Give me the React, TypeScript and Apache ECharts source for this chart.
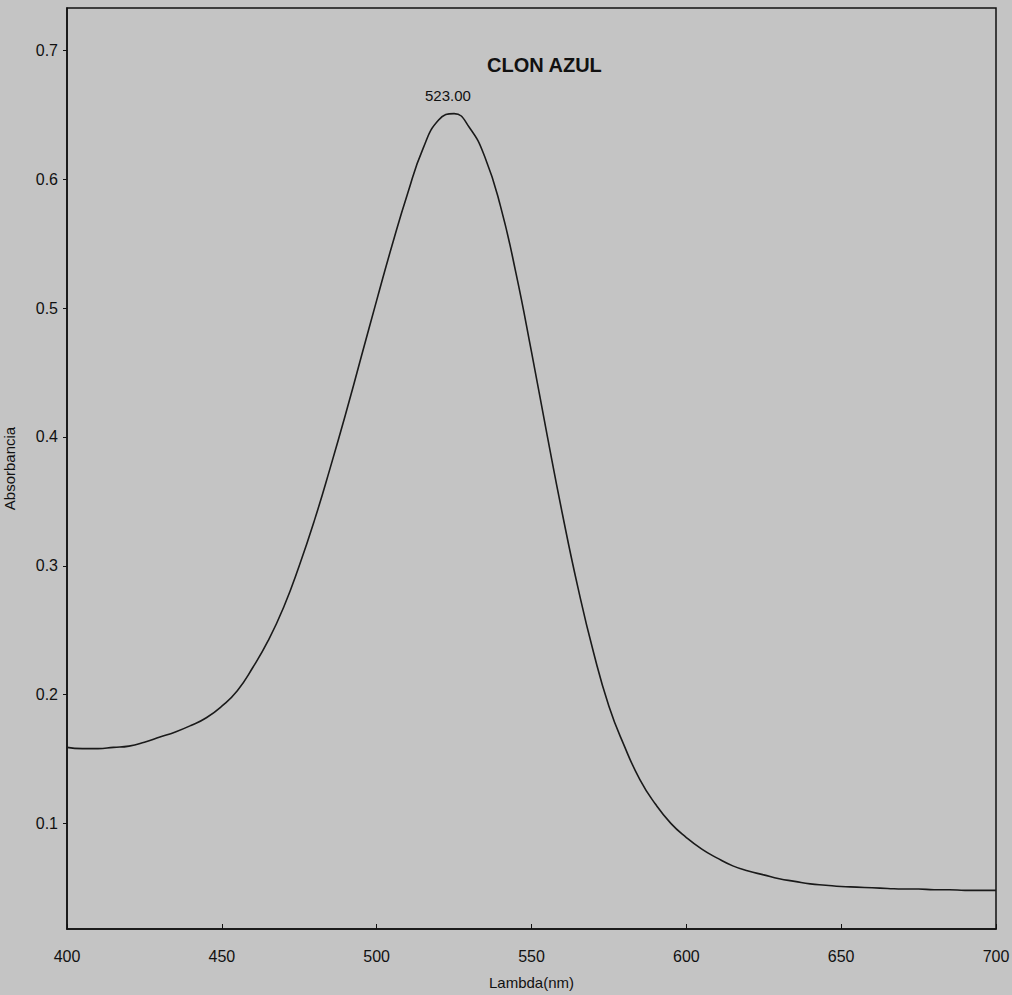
import React, { useEffect, useRef } from "react";
import * as echarts from "echarts";

const wavelengths = [400, 405, 410, 415, 420, 425, 430, 435, 440, 445, 450, 455, 460, 465, 470, 475, 480, 485, 490, 495, 500, 505, 510, 515, 520, 525, 530, 535, 540, 545, 550, 555, 560, 565, 570, 575, 580, 585, 590, 595, 600, 605, 610, 615, 620, 625, 630, 635, 640, 645, 650, 655, 660, 665, 670, 675, 680, 685, 690, 695, 700];
const absorbance = [0.159, 0.158, 0.158, 0.159, 0.160, 0.163, 0.167, 0.171, 0.176, 0.182, 0.191, 0.203, 0.221, 0.242, 0.268, 0.300, 0.336, 0.376, 0.418, 0.462, 0.506, 0.549, 0.589, 0.624, 0.646, 0.651, 0.640, 0.617, 0.579, 0.527, 0.466, 0.402, 0.340, 0.283, 0.233, 0.191, 0.160, 0.134, 0.115, 0.100, 0.089, 0.080, 0.073, 0.067, 0.063, 0.060, 0.057, 0.055, 0.053, 0.052, 0.051, 0.0505, 0.050, 0.0495, 0.049, 0.049, 0.0485, 0.0485, 0.048, 0.048, 0.048];
const yTicks = [0.1, 0.2, 0.3, 0.4, 0.5, 0.6, 0.7];
const xTicks = [400, 450, 500, 550, 600, 650, 700];
const peak = { x: 523, y: 0.652, label: "523.00" };
const title = "CLON AZUL";
const xName = "Lambda(nm)";
const yName = "Absorbancia";

export default function App() {
  const ref = useRef<HTMLDivElement>(null);
  useEffect(() => {
    document.body.style.margin = "0";
    const chart = echarts.init(ref.current!, null, { renderer: "svg" });
    const font = "Arial, 'Liberation Sans', sans-serif";
    chart.setOption({
      animation: false,
      backgroundColor: "#c4c4c4",
      textStyle: { fontFamily: font },
      title: {
        text: title,
        left: 482,
        top: 50,
        textStyle: { fontSize: 20, fontWeight: "bold", color: "#111", fontFamily: font },
      },
      grid: {
        left: 67,
        right: 16,
        top: 8,
        bottom: 66,
        containLabel: false,
        outerBoundsMode: "none",
        show: true,
        borderColor: "#111",
        borderWidth: 1.5,
        backgroundColor: "transparent",
      },
      xAxis: {
        type: "value",
        min: 400,
        max: 700,
        name: xName,
        nameLocation: "middle",
        nameGap: 46,
        nameTextStyle: { fontSize: 15, color: "#111", fontFamily: font },
        axisLine: { show: true, lineStyle: { color: "#111", width: 1.5 } },
        axisTick: { show: true, inside: true, length: 5, lineStyle: { color: "#111" }, customValues: xTicks },
        axisLabel: { fontSize: 16, color: "#111", margin: 19, customValues: xTicks, fontFamily: font },
        splitLine: { show: false },
      },
      yAxis: {
        type: "value",
        min: 0.018,
        max: 0.733,
        name: yName,
        nameLocation: "middle",
        nameGap: 50,
        nameTextStyle: { fontSize: 15, color: "#111", fontFamily: font },
        axisLine: { show: true, lineStyle: { color: "#111", width: 1.5 } },
        axisTick: { show: true, inside: false, length: 4, lineStyle: { color: "#111" }, customValues: yTicks },
        axisLabel: { fontSize: 16, color: "#111", margin: 9, customValues: yTicks, formatter: (v: number) => v.toFixed(1), fontFamily: font },
        splitLine: { show: false },
      },
      series: [
        {
          type: "line",
          data: wavelengths.map((w, i) => [w, absorbance[i]]),
          smooth: true,
          showSymbol: false,
          symbol: "none",
          lineStyle: { color: "#1a1a1a", width: 1.6 },
          markPoint: {
            symbol: "circle",
            symbolSize: 0,
            data: [{ coord: [peak.x, peak.y], value: peak.label }],
            label: {
              show: true,
              position: "top",
              distance: 9,
              formatter: () => peak.label,
              fontSize: 15,
              color: "#111",
              fontFamily: font,
            },
          },
        },
      ],
    });
    return () => chart.dispose();
  }, []);
  return <div ref={ref} style={{ position: "fixed", left: 0, top: 0, width: 1012, height: 995 }} />;
}
